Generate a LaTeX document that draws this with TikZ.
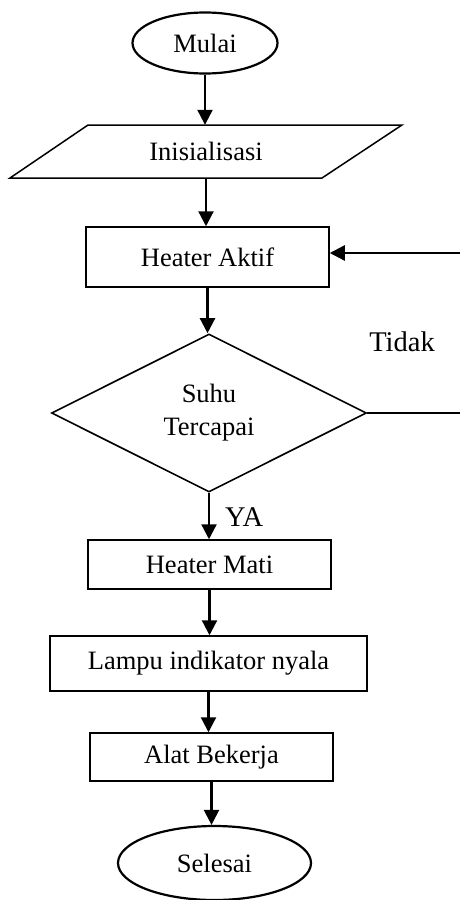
\documentclass[tikz,border=0pt]{standalone}
\usepackage{fontspec}
\setmainfont{Liberation Serif}
\usetikzlibrary{shapes.geometric,arrows.meta}
\begin{document}
\begin{tikzpicture}[x=1pt,y=-1pt,
  every node/.style={font=\fontsize{26.5}{33}\selectfont, inner sep=0pt},
  term/.style={draw, ellipse, line width=2.2pt},
  proc/.style={draw, rectangle, line width=1.5pt},
  dec/.style={draw, diamond, line width=1.6pt, align=center},
  arr/.style={line width=2.3pt, -{Triangle[length=15pt,width=15pt]}},
  plain/.style={line width=2.3pt},
  biglabel/.style={font=\fontsize{28.5}{33}\selectfont}]
\useasboundingbox (0,0) rectangle (459,900);
\fill[white] (0,0) rectangle (459,900);

\node[term, minimum width=145pt, minimum height=61pt] (mulai) at (205,43) {Mulai};

\draw[line width=1.5pt] (88,125) -- (402,125) -- (322,178) -- (10,178) -- cycle;
\node[minimum width=150pt, minimum height=53pt] (init) at (206,151.5) {Inisialisasi};

\node[proc, minimum width=243pt, minimum height=60pt] (aktif) at (207.5,257) {Heater Aktif};

\node[dec, minimum width=315pt, minimum height=158pt] (dia) at (209,413) {Suhu\\Tercapai};

\node[proc, minimum width=243pt, minimum height=49pt] (mati) at (209.5,564.5) {Heater Mati};
\node[proc, minimum width=317pt, minimum height=55pt] (lampu) at (208.5,663.5) {Lampu indikator nyala};
\node[proc, minimum width=243pt, minimum height=48pt] (alat) at (211.5,757) {Alat Bekerja};
\node[term, minimum width=193pt, minimum height=74pt] (selesai) at (214.5,863) {Selesai};

\node[biglabel] (tidak) at (402,342) {Tidak};
\node[biglabel, anchor=west] (ya) at (225,517) {YA};

\draw[arr] (mulai.south) -- (mulai.south |- init.north);
\draw[arr] (init.south) -- (init.south |- aktif.north);
\draw[arr] (aktif.south) -- (aktif.south |- dia.north);
\draw[arr] (dia.south) -- (dia.south |- mati.north);
\draw[arr] (mati.south) -- (mati.south |- lampu.north);
\draw[arr] (lampu.south) -- (lampu.south |- alat.north);
\draw[arr] (alat.south) -- (alat.south |- selesai.north);

\coordinate (r1) at (460,413);
\coordinate (r2) at (460,253);
\draw[plain] (dia.east) -- (r1);
\draw[arr] (r2) -- (aktif.east |- r2);
\end{tikzpicture}
\end{document}
